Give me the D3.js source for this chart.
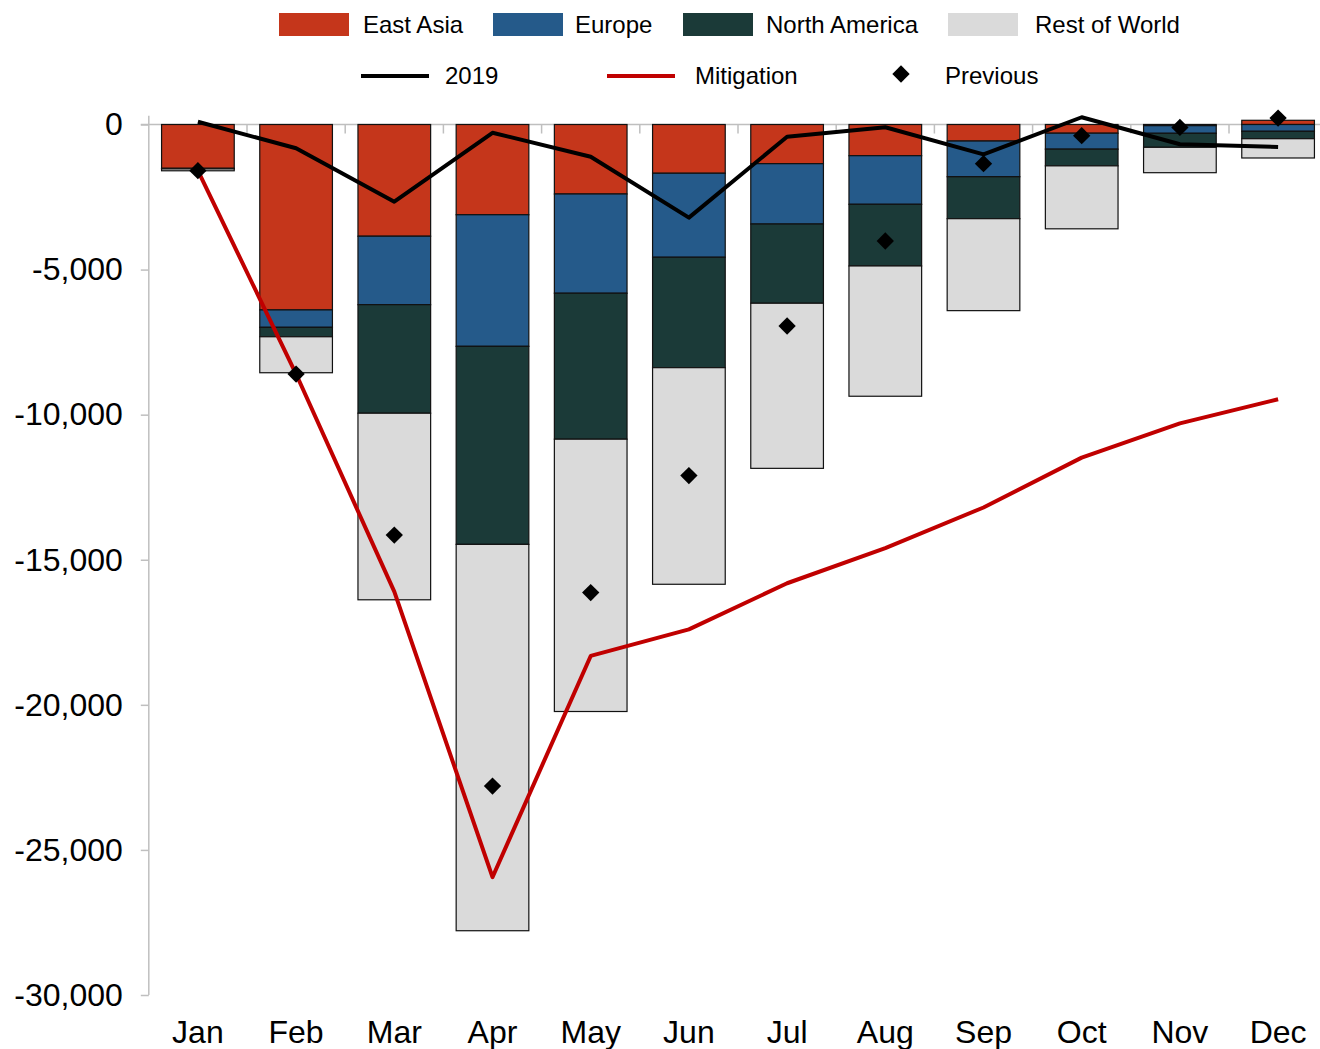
<!DOCTYPE html>
<html>
<head>
<meta charset="utf-8">
<script src="https://cdn.jsdelivr.net/npm/d3@7/dist/d3.min.js"></script>
<style>
  html, body { margin: 0; padding: 0; background: #fff; }
  svg { display: block; font-family: Arial, "Liberation Sans", sans-serif; }
</style>
</head>
<body>
<svg id="chart" width="1320" height="1049"></svg>
<script>
// Monthly change by region (stacked bars)
const months = ["Jan","Feb","Mar","Apr","May","Jun","Jul","Aug","Sep","Oct","Nov","Dec"];
const eastAsia     = [-1510, -6390, -3850, -3110, -2395, -1680, -1350, -1075,  -570, -300,  -40,  145];
const europe       = [  -10,  -600, -2360, -4535, -3420, -2895, -2080, -1675, -1230, -550, -263, -234];
const northAmerica = [  -10,  -325, -3740, -6825, -5030, -3805, -2730, -2125, -1445, -575, -483, -255];
const restOfWorld  = [  -65, -1240, -6430,-13315, -9385, -7465, -5690, -4490, -3170,-2170, -875, -665];

// Comparison series
const line2019   = [   95,  -820, -2660,  -285, -1110, -3210,  -420,   -95, -1030,  250, -680, -775];
const mitigation = [-1590, -8600,-16100,-25940,-18315,-17400,-15810,-14600,-13200,-11480,-10300,-9470];
const previous   = [-1590, -8600,-14150,-22800,-16130,-12100, -6945, -4015, -1350, -385, -100,  220];

const yTicks = [0, -5000, -10000, -15000, -20000, -25000, -30000];

const regions = [
  { name: "East Asia",     values: eastAsia,     color: "#C5361B" },
  { name: "Europe",        values: europe,       color: "#255A8A" },
  { name: "North America", values: northAmerica, color: "#1B3A38" },
  { name: "Rest of World", values: restOfWorld,  color: "#DADADA" }
];

const svg = d3.select("#chart");

const x = d3.scaleBand().domain(months).range([148.8, 1327.2]).paddingInner(0.26).paddingOuter(0.13);
const y = d3.scaleLinear().domain([-30000, 0]).range([995, 124.5]);
const axisGrey = "#BFBFBF";
const fmt = d => d3.format(",")(d).replace("\u2212", "-");

// y axis
const yAxis = svg.append("g").attr("transform", `translate(${x.range()[0]},0)`)
  .call(d3.axisLeft(y).tickValues(yTicks).tickSize(8).tickPadding(18).tickFormat(fmt));
yAxis.select(".domain").remove();
yAxis.append("line").attr("x1", 0).attr("x2", 0).attr("y1", y(300)).attr("y2", y(-30000))
  .attr("stroke", axisGrey).attr("stroke-width", 1.5);
yAxis.selectAll(".tick line").attr("stroke", axisGrey).attr("stroke-width", 1.5);
yAxis.selectAll(".tick text").attr("font-size", 32).attr("fill", "#000")
  .attr("font-family", "Arial, 'Liberation Sans', sans-serif");

// zero line with ticks between months
svg.append("line").attr("x1", x.range()[0] - 8).attr("x2", x.range()[1])
  .attr("y1", y(0)).attr("y2", y(0)).attr("stroke", axisGrey).attr("stroke-width", 1.5);
const step = x.step();
svg.append("g").selectAll("line").data(d3.range(1, months.length + 1))
  .join("line")
  .attr("x1", i => x.range()[0] + step * i)
  .attr("x2", i => x.range()[0] + step * i)
  .attr("y1", y(0)).attr("y2", y(0) + 9)
  .attr("stroke", axisGrey).attr("stroke-width", 1.5);

// month labels
svg.append("g").selectAll("text").data(months).join("text")
  .attr("x", d => x(d) + x.bandwidth() / 2)
  .attr("y", 1043)
  .attr("text-anchor", "middle")
  .attr("font-size", 32)
  .text(d => d);

// stacked bars: negatives stack downward from zero, positives upward
const bars = svg.append("g");
months.forEach((m, i) => {
  let neg = 0, pos = 0;
  regions.forEach(r => {
    const v = r.values[i];
    let y0, y1;
    if (v < 0) { y0 = neg; y1 = neg + v; neg = y1; }
    else { y0 = pos; y1 = pos + v; pos = y1; }
    bars.append("rect")
      .attr("x", x(m))
      .attr("width", x.bandwidth())
      .attr("y", y(Math.max(y0, y1)))
      .attr("height", Math.abs(y(y0) - y(y1)))
      .attr("fill", r.color)
      .attr("stroke", "#111")
      .attr("stroke-width", 1.2);
  });
});

const cx = d => x(d) + x.bandwidth() / 2;

// 2019 line
svg.append("path")
  .datum(line2019)
  .attr("d", d3.line().x((d, i) => cx(months[i])).y(d => y(d)))
  .attr("fill", "none").attr("stroke", "#000").attr("stroke-width", 4)
  .attr("stroke-linejoin", "round");

// Mitigation line
svg.append("path")
  .datum(mitigation)
  .attr("d", d3.line().x((d, i) => cx(months[i])).y(d => y(d)))
  .attr("fill", "none").attr("stroke", "#C00000").attr("stroke-width", 4)
  .attr("stroke-linejoin", "round");

// Previous markers (diamonds)
const marker = d3.symbol().type(d3.symbolSquare).size(150);
svg.append("g").selectAll("path").data(previous).join("path")
  .attr("d", marker)
  .attr("transform", (d, i) => `translate(${cx(months[i])},${y(d)}) rotate(45)`)
  .attr("fill", "#000");

// Legend
const legend = svg.append("g").attr("font-size", 24);
const legendBars = [
  { x: 279, tx: 363 }, { x: 493, tx: 575 }, { x: 683, tx: 766 }, { x: 948, tx: 1035 }
];
regions.forEach((r, i) => {
  legend.append("rect").attr("x", legendBars[i].x).attr("y", 13).attr("width", 70).attr("height", 23)
    .attr("fill", r.color);
  legend.append("text").attr("x", legendBars[i].tx).attr("y", 25).attr("dy", "0.35em").text(r.name);
});
legend.append("line").attr("x1", 361).attr("x2", 429).attr("y1", 76).attr("y2", 76)
  .attr("stroke", "#000").attr("stroke-width", 4);
legend.append("text").attr("x", 445).attr("y", 76).attr("dy", "0.35em").text("2019");
legend.append("line").attr("x1", 607).attr("x2", 675).attr("y1", 76).attr("y2", 76)
  .attr("stroke", "#C00000").attr("stroke-width", 4);
legend.append("text").attr("x", 695).attr("y", 76).attr("dy", "0.35em").text("Mitigation");
legend.append("path").attr("d", marker)
  .attr("transform", "translate(901,74) rotate(45)").attr("fill", "#000");
legend.append("text").attr("x", 945).attr("y", 76).attr("dy", "0.35em").text("Previous");
</script>
</body>
</html>
